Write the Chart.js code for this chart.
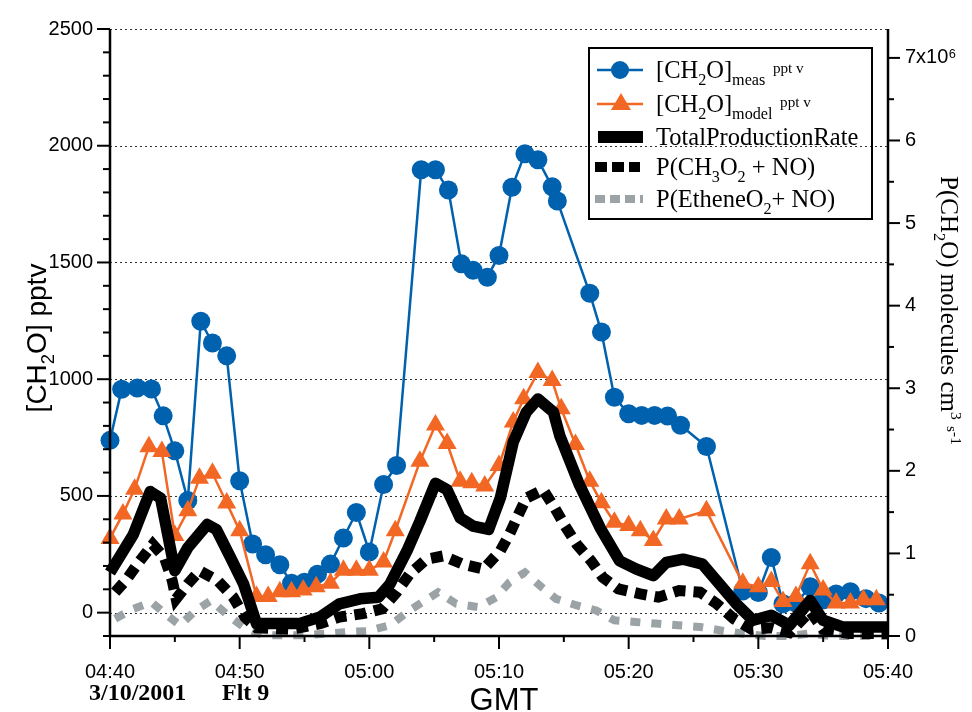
<!DOCTYPE html>
<html><head><meta charset="utf-8">
<script src="https://cdn.jsdelivr.net/npm/chart.js@4.4.1/dist/chart.umd.min.js"></script>
<style>html,body{margin:0;padding:0;background:#fff}</style>
</head><body>
<canvas id="c" width="972" height="712"></canvas>
<script>
// ===== DATA (minutes after 04:40 GMT) =====
const timeLabels=['04:40','04:50','05:00','05:10','05:20','05:30','05:40'];
const leftLabels=[0,500,1000,1500,2000,2500];
const rightLabels=['0','1','2','3','4','5','6','7x10\u2076'];

const measT=[0,0.9,2.1,3.2,4.1,5.0,6.0,7.0,7.9,9.0,10.0,11.0,12.0,13.1,14.0,15.0,16.0,17.0,18.0,19.0,20.0,21.1,22.1,24.0,25.1,26.1,27.1,28.0,29.1,30.0,31.0,32.0,33.0,34.1,34.5,37.0,37.9,38.9,40.0,41.0,42.0,43.0,44.0,46.0,48.8,50.0,51.0,51.9,52.9,54.0,55.0,56.0,57.1,58.3,59.3];
const measV=[738,957,962,958,843,693,480,1248,1155,1100,565,294,248,205,126,130,165,208,320,429,260,549,630,1897,1897,1810,1494,1467,1437,1530,1822,1966,1940,1824,1763,1368,1202,923,852,845,845,842,803,712,93,86,236,38,41,111,55,80,90,60,41];

const modelT=[0,1.0,1.9,3.0,4.0,5.0,6.0,6.9,7.9,9.0,10.0,11.3,12.2,13.1,14.0,14.9,15.9,17.0,18.0,19.0,20.0,21.1,22.0,23.9,25.1,26.0,27.0,27.9,28.9,30.0,31.1,31.9,33.0,34.1,34.8,35.9,37.0,37.9,38.9,40.0,40.9,41.9,42.9,43.9,46.0,48.8,50.0,51.0,51.9,52.9,54.0,55.0,56.0,57.1,58.1,59.1];
const modelV=[318,423,529,711,690,330,436,576,597,470,351,69,69,90,90,97,111,126,182,182,182,217,351,648,804,725,563,556,542,630,817,916,1029,994,873,720,563,471,387,373,351,309,401,401,436,126,111,133,48,69,210,97,41,41,55,55];

// right axis, units of 1e6 molecules cm-3 s-1
const totT=[0,1.8,3.1,3.9,5.0,6.0,7.5,8.2,9.3,10.3,11.3,14.6,16.2,17.7,19.3,20.7,21.6,22.9,23.9,25.1,26.0,27.0,28.0,29.2,30.1,31.1,32.1,33.0,34.2,34.7,36.2,37.8,39.3,40.6,41.9,42.9,44.2,45.7,47.0,48.3,49.6,51.0,52.4,54.0,55.0,56.5,58.3,60.0];
const totV=[0.77,1.23,1.75,1.67,0.79,1.07,1.35,1.29,0.95,0.63,0.15,0.15,0.23,0.39,0.45,0.47,0.63,1.03,1.39,1.85,1.77,1.43,1.33,1.29,1.67,2.35,2.71,2.87,2.71,2.42,1.83,1.31,0.91,0.81,0.73,0.89,0.93,0.87,0.63,0.39,0.19,0.25,0.13,0.43,0.19,0.11,0.11,0.11];

const ch3T=[0.4,1.3,2.3,3.3,4.2,4.8,5.1,6.0,6.9,8.3,9.5,10.4,11.3,14.0,16.2,17.7,19.5,21.0,22.1,23.1,24.4,25.7,27.2,28.8,30.1,30.8,31.5,32.1,33.4,34.3,35.1,36.0,37.1,38.0,39.2,40.9,42.3,43.9,45.5,46.8,48.1,49.5,51.0,52.4,54.0,55.0,57.0,60.0];
const ch3V=[0.53,0.69,0.91,1.11,0.95,0.67,0.45,0.63,0.79,0.67,0.47,0.23,0.10,0.08,0.15,0.23,0.27,0.33,0.53,0.75,0.93,0.97,0.87,0.81,1.03,1.23,1.47,1.67,1.77,1.55,1.33,1.11,0.91,0.71,0.57,0.51,0.47,0.55,0.53,0.39,0.21,0.08,0.10,0.04,0.30,0.08,0.03,0.03];

const ethT=[0.4,1.8,3.2,4.4,5.4,6.6,7.8,9.1,10.3,11.8,13.4,15.2,16.8,18.4,19.9,21.6,23.1,25.3,26.7,28.4,29.8,30.8,32.0,33.3,34.4,36.0,37.5,38.9,40.5,42.1,43.8,45.5,47.0,48.7,50.5,52.3,54.0,55.6,57.1,60.0];
const ethV=[0.21,0.33,0.41,0.25,0.13,0.31,0.43,0.25,0.11,0.01,0.01,0.01,0.03,0.05,0.06,0.13,0.31,0.53,0.39,0.35,0.47,0.65,0.77,0.59,0.45,0.37,0.31,0.19,0.17,0.15,0.13,0.11,0.07,0.03,0.0,0.0,0.03,0.0,0.0,0.0];

// ===== STYLE =====
const BLUE='#0061AF',ORANGE='#F26724',GREY='#9CA3A6',INK='#000';
const SANS="'Liberation Sans',Arial,sans-serif",SERIF="'Liberation Serif','Times New Roman',serif";
const pts=(t,v)=>t.map((x,i)=>({x:x,y:v[i]}));

// text with sub/superscripts: kind 0 normal, 1 sub, 2 sup, 3 small raised
function rich(ctx,parts,x,y,size,fam,wt,align){
  const sp=k=>k===0?{s:size,dy:0}:k===1?{s:size*0.66,dy:size*0.27}:k===2?{s:size*0.62,dy:-size*0.4}:{s:size*0.62,dy:-size*0.22};
  let w=0;
  parts.forEach(([t,k])=>{ctx.font=wt+' '+sp(k).s+'px '+fam;w+=ctx.measureText(t).width;});
  let cx=align==='center'?x-w/2:x;
  ctx.textAlign='left';ctx.textBaseline='alphabetic';
  parts.forEach(([t,k])=>{const s=sp(k);ctx.font=wt+' '+s.s+'px '+fam;ctx.fillText(t,cx,y+s.dy);cx+=ctx.measureText(t).width;});
}

const deco={id:'deco',
  beforeDatasetsDraw(ch){
    const {ctx,chartArea:a}=ch,y=ch.scales.y;
    ctx.save();ctx.strokeStyle='#333';ctx.lineWidth=1;ctx.setLineDash([2,3]);
    leftLabels.forEach(v=>{const py=Math.round(y.getPixelForValue(v))+0.5;ctx.beginPath();ctx.moveTo(a.left,py);ctx.lineTo(a.right,py);ctx.stroke();});
    ctx.restore();
  },
  afterDraw(ch){
    const {ctx,chartArea:a}=ch,x=ch.scales.x,y=ch.scales.y,y2=ch.scales.y2;
    ctx.save();
    ctx.strokeStyle=INK;ctx.fillStyle=INK;ctx.lineCap='butt';
    // axis lines
    ctx.lineWidth=2.5;
    ctx.beginPath();ctx.moveTo(a.left,a.top);ctx.lineTo(a.left,a.bottom);ctx.lineTo(a.right,a.bottom);ctx.lineTo(a.right,a.top);ctx.stroke();
    // tick marks
    ctx.lineWidth=2;
    for(let v=-100;v<=2500;v+=100){const py=y.getPixelForValue(v),l=v%500===0?13:7;ctx.beginPath();ctx.moveTo(a.left-l,py);ctx.lineTo(a.left,py);ctx.stroke();}
    for(let v=0;v<=7;v+=0.5){const py=y2.getPixelForValue(v),l=v%1===0?12:6;ctx.beginPath();ctx.moveTo(a.right,py);ctx.lineTo(a.right+l,py);ctx.stroke();}
    for(let v=0;v<=60;v+=5){const px=x.getPixelForValue(v),l=v%10===0?13:6;ctx.beginPath();ctx.moveTo(px,a.bottom);ctx.lineTo(px,a.bottom+l);ctx.stroke();}
    // axis titles
    ctx.save();ctx.translate(46,338);ctx.rotate(-Math.PI/2);
    rich(ctx,[['[CH',0],['2',1],['O] pptv',0]],0,0,28,SANS,'normal','center');ctx.restore();
    ctx.save();ctx.translate(941,176);ctx.rotate(Math.PI/2);
    rich(ctx,[['P(CH',0],['2',1],['O) molecules cm',0],['3',2],[' ',0],['s',3],['-1',2]],0,0,25,SERIF,'normal','left');ctx.restore();
    rich(ctx,[['GMT',0]],504,710,31,SANS,'normal','center');
    rich(ctx,[['3/10/2001',0]],89,700,24,SERIF,'bold','left');
    rich(ctx,[['Flt 9',0]],222,700,24,SERIF,'bold','left');
    // legend
    ctx.lineWidth=2;ctx.strokeRect(589,48,283,171);
    const rows=[70,104,137,167,199],tx=656,fs=24.5;
    // meas
    ctx.strokeStyle=BLUE;ctx.lineWidth=2.5;ctx.beginPath();ctx.moveTo(597,rows[0]);ctx.lineTo(643,rows[0]);ctx.stroke();
    ctx.fillStyle=BLUE;ctx.beginPath();ctx.arc(620,rows[0],9,0,Math.PI*2);ctx.fill();
    // model
    ctx.strokeStyle=ORANGE;ctx.beginPath();ctx.moveTo(597,rows[1]);ctx.lineTo(643,rows[1]);ctx.stroke();
    ctx.fillStyle=ORANGE;ctx.beginPath();ctx.moveTo(621,rows[1]-11);ctx.lineTo(631,rows[1]+6);ctx.lineTo(611,rows[1]+6);ctx.closePath();ctx.fill();
    // total
    ctx.fillStyle=INK;ctx.fillRect(598,rows[2]-6,45,12);
    // ch3o2
    ctx.strokeStyle=INK;ctx.lineWidth=10;ctx.setLineDash([12,5]);ctx.beginPath();ctx.moveTo(595,rows[3]);ctx.lineTo(640,rows[3]);ctx.stroke();
    ctx.strokeStyle=GREY;ctx.lineWidth=8;ctx.setLineDash([10,5]);ctx.beginPath();ctx.moveTo(595,rows[4]);ctx.lineTo(643,rows[4]);ctx.stroke();
    ctx.setLineDash([]);
    ctx.fillStyle=INK;
    rich(ctx,[['[CH',0],['2',1],['O]',0],['meas',1],['  ppt v',3]],tx,rows[0]+8,fs,SERIF,'normal','left');
    rich(ctx,[['[CH',0],['2',1],['O]',0],['model',1],['  ppt v',3]],tx,rows[1]+8,fs,SERIF,'normal','left');
    rich(ctx,[['TotalProductionRate',0]],tx,rows[2]+8,fs,SERIF,'normal','left');
    rich(ctx,[['P(CH',0],['3',1],['O',0],['2',1],[' + NO)',0]],tx,rows[3]+8,fs,SERIF,'normal','left');
    rich(ctx,[['P(EtheneO',0],['2',1],['+ NO)',0]],tx,rows[4]+8,fs,SERIF,'normal','left');
    ctx.restore();
  }
};

const tickFont={family:SANS,size:20};
new Chart(document.getElementById('c'),{
  type:'line',
  data:{datasets:[
    {label:'TotalProductionRate',data:pts(totT,totV),yAxisID:'y2',borderColor:INK,borderWidth:11.5,borderJoinStyle:'round',pointRadius:0,order:0,clip:false},
    {label:'P(CH3O2 + NO)',data:pts(ch3T,ch3V),yAxisID:'y2',borderColor:INK,borderWidth:11,borderDash:[12,8],pointRadius:0,order:1,clip:false},
    {label:'P(EtheneO2+ NO)',data:pts(ethT,ethV),yAxisID:'y2',borderColor:GREY,borderWidth:8,borderDash:[10,11],pointRadius:0,order:2,clip:false},
    {label:'[CH2O]model pptv',data:pts(modelT,modelV),yAxisID:'y',borderColor:ORANGE,borderWidth:2.5,pointStyle:'triangle',pointRadius:11,pointBackgroundColor:ORANGE,pointBorderWidth:0,order:3,clip:false},
    {label:'[CH2O]meas pptv',data:pts(measT,measV),yAxisID:'y',borderColor:BLUE,borderWidth:2.5,pointRadius:9.5,pointBackgroundColor:BLUE,pointBorderWidth:0,order:4,clip:false}
  ]},
  options:{responsive:false,animation:false,
    layout:{padding:{top:22,left:0,right:0,bottom:0}},
    plugins:{legend:{display:false},tooltip:{enabled:false}},
    scales:{
      x:{type:'linear',min:0,max:60,grid:{display:false,drawTicks:false},border:{display:false},
        ticks:{stepSize:5,autoSkip:false,maxRotation:0,padding:24,color:INK,font:tickFont,callback:v=>v%10===0?timeLabels[v/10]:''},
        afterFit:s=>{s.height=76;}},
      y:{position:'left',min:-100,max:2500,grid:{display:false,drawTicks:false},border:{display:false},
        ticks:{stepSize:100,autoSkip:false,padding:17,color:INK,font:tickFont,callback:v=>leftLabels.includes(v)?String(v):''},
        afterFit:s=>{s.width=110;}},
      y2:{position:'right',min:0,max:7.35,grid:{display:false,drawTicks:false},border:{display:false},
        ticks:{stepSize:0.5,autoSkip:false,padding:17,color:INK,font:tickFont,callback:v=>(v%1===0&&v<=7)?rightLabels[v]:''},
        afterFit:s=>{s.width=84;}}
    }},
  plugins:[deco]
});
</script>
</body></html>
